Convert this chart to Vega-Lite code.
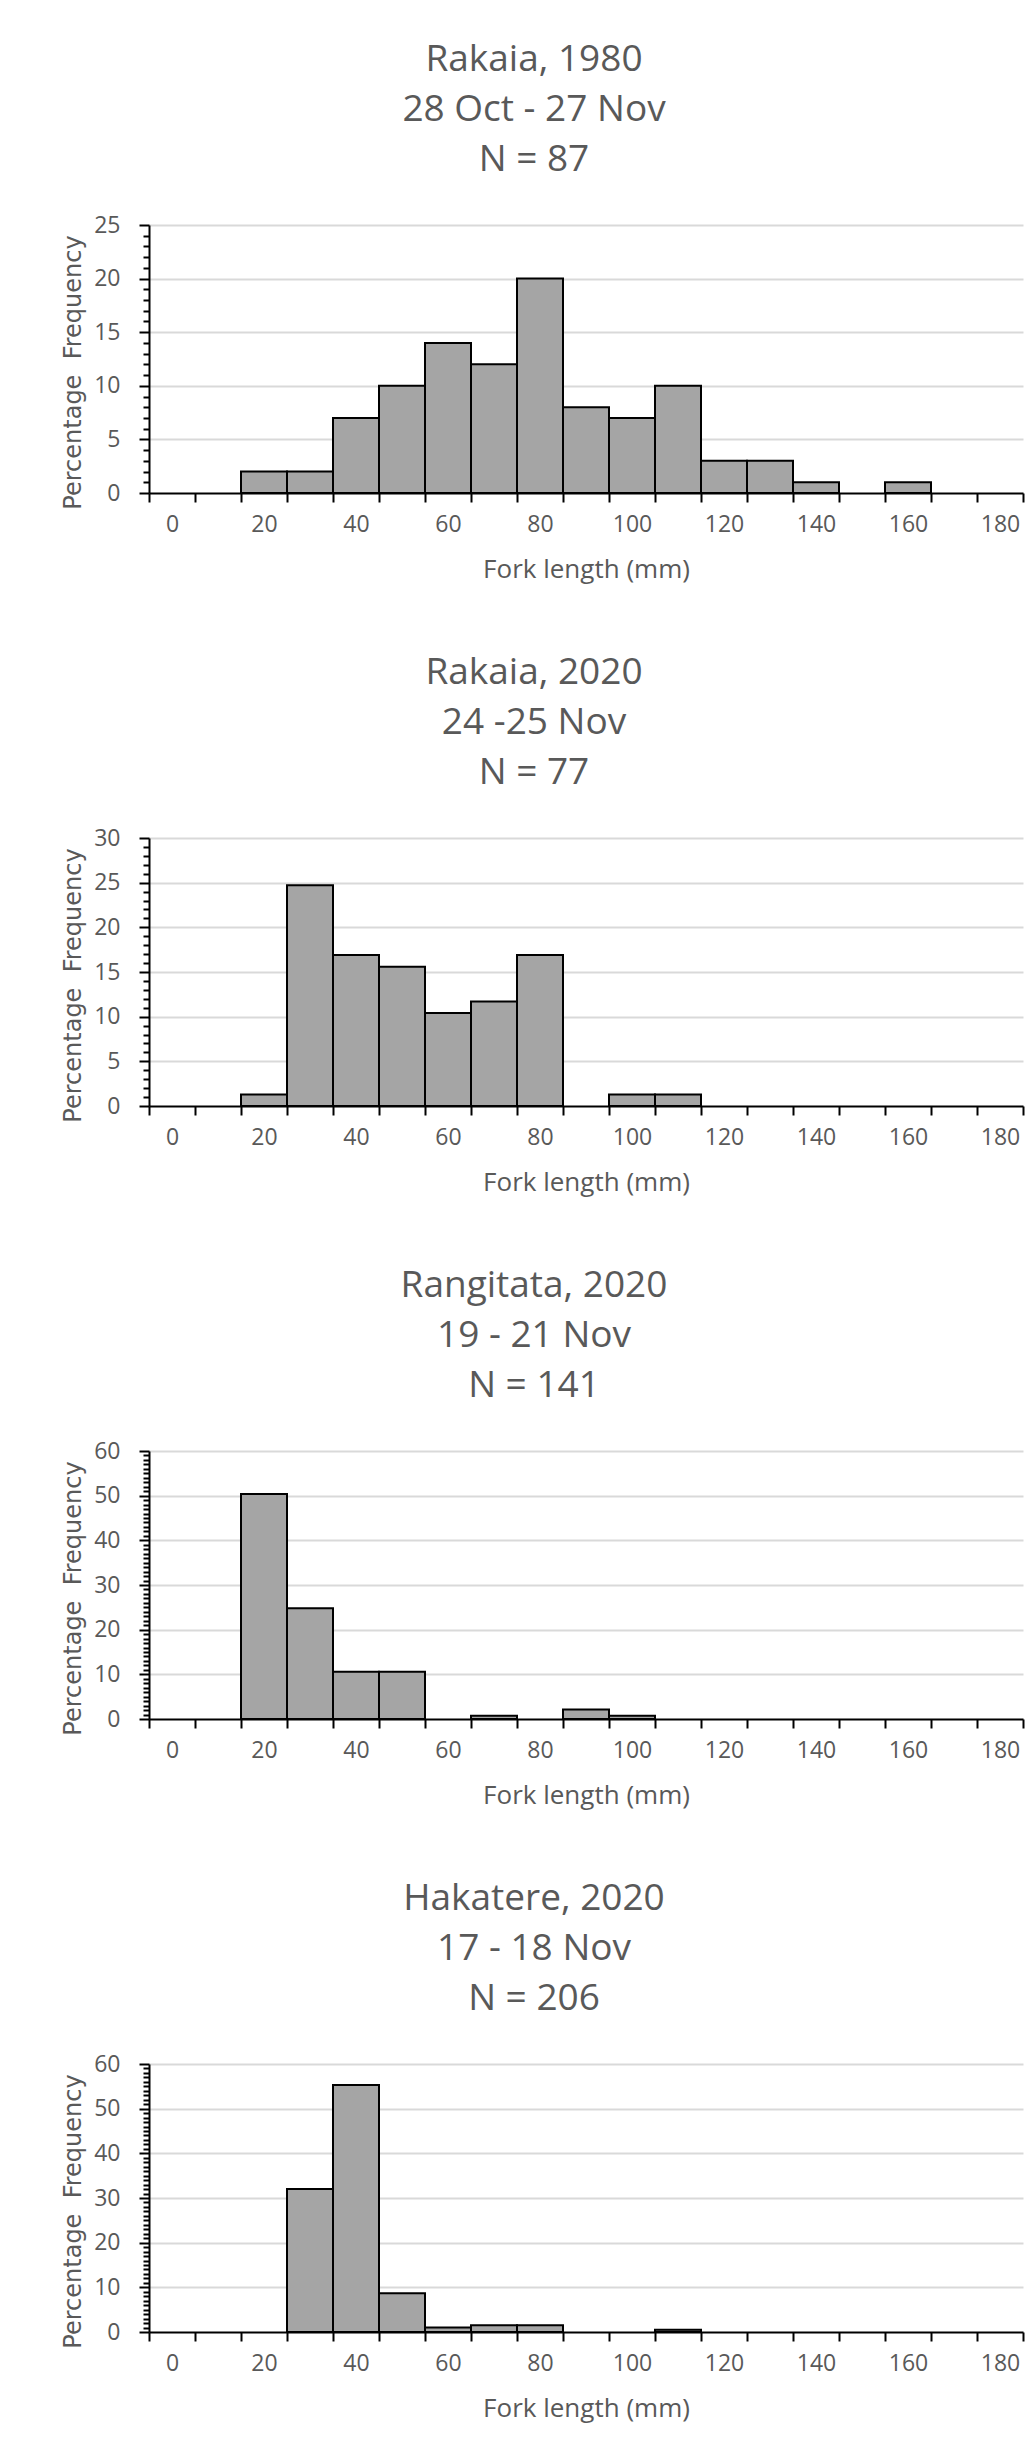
{
  "$schema": "https://vega.github.io/schema/vega-lite/v6.json",
  "background": "white",
  "padding": {"left": 60, "top": 41, "right": 5, "bottom": 5},
  "datasets": {
    "hist": [
      {"panel": "Rakaia 1980", "bin": 20, "pct": 2},
      {"panel": "Rakaia 1980", "bin": 30, "pct": 2},
      {"panel": "Rakaia 1980", "bin": 40, "pct": 7},
      {"panel": "Rakaia 1980", "bin": 50, "pct": 10},
      {"panel": "Rakaia 1980", "bin": 60, "pct": 14},
      {"panel": "Rakaia 1980", "bin": 70, "pct": 12},
      {"panel": "Rakaia 1980", "bin": 80, "pct": 20},
      {"panel": "Rakaia 1980", "bin": 90, "pct": 8},
      {"panel": "Rakaia 1980", "bin": 100, "pct": 7},
      {"panel": "Rakaia 1980", "bin": 110, "pct": 10},
      {"panel": "Rakaia 1980", "bin": 120, "pct": 3},
      {"panel": "Rakaia 1980", "bin": 130, "pct": 3},
      {"panel": "Rakaia 1980", "bin": 140, "pct": 1},
      {"panel": "Rakaia 1980", "bin": 160, "pct": 1},
      {"panel": "Rakaia 2020", "bin": 20, "pct": 1.3},
      {"panel": "Rakaia 2020", "bin": 30, "pct": 24.7},
      {"panel": "Rakaia 2020", "bin": 40, "pct": 16.9},
      {"panel": "Rakaia 2020", "bin": 50, "pct": 15.6},
      {"panel": "Rakaia 2020", "bin": 60, "pct": 10.4},
      {"panel": "Rakaia 2020", "bin": 70, "pct": 11.7},
      {"panel": "Rakaia 2020", "bin": 80, "pct": 16.9},
      {"panel": "Rakaia 2020", "bin": 100, "pct": 1.3},
      {"panel": "Rakaia 2020", "bin": 110, "pct": 1.3},
      {"panel": "Rangitata 2020", "bin": 20, "pct": 50.4},
      {"panel": "Rangitata 2020", "bin": 30, "pct": 24.8},
      {"panel": "Rangitata 2020", "bin": 40, "pct": 10.6},
      {"panel": "Rangitata 2020", "bin": 50, "pct": 10.6},
      {"panel": "Rangitata 2020", "bin": 70, "pct": 0.7},
      {"panel": "Rangitata 2020", "bin": 90, "pct": 2.1},
      {"panel": "Rangitata 2020", "bin": 100, "pct": 0.7},
      {"panel": "Hakatere 2020", "bin": 30, "pct": 32.0},
      {"panel": "Hakatere 2020", "bin": 40, "pct": 55.3},
      {"panel": "Hakatere 2020", "bin": 50, "pct": 8.7},
      {"panel": "Hakatere 2020", "bin": 60, "pct": 1.0},
      {"panel": "Hakatere 2020", "bin": 70, "pct": 1.5},
      {"panel": "Hakatere 2020", "bin": 80, "pct": 1.5},
      {"panel": "Hakatere 2020", "bin": 110, "pct": 0.5}
    ]
  },
  "data": {"name": "hist"},
  "spacing": 72,
  "resolve": {"scale": {"x": "independent", "y": "independent"}},
  "vconcat": [
    {
      "title": {"text": ["Rakaia, 1980", "28 Oct - 27 Nov", "N = 87"]},
      "width": 874, "height": 268,
      "transform": [{"filter": "datum.panel === 'Rakaia 1980'"}],
      "mark": {"type": "bar", "fill": "#a5a5a5", "stroke": "black", "strokeWidth": 2, "width": {"band": 1}},
      "encoding": {
        "x": {"field": "bin", "type": "ordinal", "scale": {"domain": [0,10,20,30,40,50,60,70,80,90,100,110,120,130,140,150,160,170,180], "paddingInner": 0, "paddingOuter": 0}, "axis": {"title": "Fork length (mm)"}},
        "y": {"field": "pct", "type": "quantitative", "scale": {"domain": [0, 25], "nice": false},
          "axis": {"title": "Percentage\u00a0 Frequency", "format": "d",
            "values": [0,1,2,3,4,5,6,7,8,9,10,11,12,13,14,15,16,17,18,19,20,21,22,23,24,25],
            "labelExpr": "datum.value % 5 === 0 ? datum.label : ''",
            "tickSize": {"condition": {"test": "datum.value % 5 === 0", "value": 10}, "value": 6},
            "gridOpacity": {"condition": {"test": "datum.value % 5 === 0 && datum.value > 0", "value": 1}, "value": 0}}}
      }
    },
    {
      "title": {"text": ["Rakaia, 2020", "24 -25 Nov", "N = 77"]},
      "width": 874, "height": 268,
      "transform": [{"filter": "datum.panel === 'Rakaia 2020'"}],
      "mark": {"type": "bar", "fill": "#a5a5a5", "stroke": "black", "strokeWidth": 2, "width": {"band": 1}},
      "encoding": {
        "x": {"field": "bin", "type": "ordinal", "scale": {"domain": [0,10,20,30,40,50,60,70,80,90,100,110,120,130,140,150,160,170,180], "paddingInner": 0, "paddingOuter": 0}, "axis": {"title": "Fork length (mm)"}},
        "y": {"field": "pct", "type": "quantitative", "scale": {"domain": [0, 30], "nice": false},
          "axis": {"title": "Percentage\u00a0 Frequency", "format": "d",
            "values": [0,0.5,1,1.5,2,2.5,3,3.5,4,4.5,5,5.5,6,6.5,7,7.5,8,8.5,9,9.5,10,10.5,11,11.5,12,12.5,13,13.5,14,14.5,15,15.5,16,16.5,17,17.5,18,18.5,19,19.5,20,20.5,21,21.5,22,22.5,23,23.5,24,24.5,25,25.5,26,26.5,27,27.5,28,28.5,29,29.5,30],
            "labelExpr": "datum.value % 5 === 0 ? datum.label : ''",
            "tickSize": {"condition": {"test": "datum.value % 5 === 0", "value": 10}, "value": 6},
            "gridOpacity": {"condition": {"test": "datum.value % 5 === 0 && datum.value > 0", "value": 1}, "value": 0}}}
      }
    },
    {
      "title": {"text": ["Rangitata, 2020", "19 - 21 Nov", "N = 141"]},
      "width": 874, "height": 268,
      "transform": [{"filter": "datum.panel === 'Rangitata 2020'"}],
      "mark": {"type": "bar", "fill": "#a5a5a5", "stroke": "black", "strokeWidth": 2, "width": {"band": 1}},
      "encoding": {
        "x": {"field": "bin", "type": "ordinal", "scale": {"domain": [0,10,20,30,40,50,60,70,80,90,100,110,120,130,140,150,160,170,180], "paddingInner": 0, "paddingOuter": 0}, "axis": {"title": "Fork length (mm)"}},
        "y": {"field": "pct", "type": "quantitative", "scale": {"domain": [0, 60], "nice": false},
          "axis": {"title": "Percentage\u00a0 Frequency", "format": "d",
            "values": [0,1,2,3,4,5,6,7,8,9,10,11,12,13,14,15,16,17,18,19,20,21,22,23,24,25,26,27,28,29,30,31,32,33,34,35,36,37,38,39,40,41,42,43,44,45,46,47,48,49,50,51,52,53,54,55,56,57,58,59,60],
            "labelExpr": "datum.value % 10 === 0 ? datum.label : ''",
            "tickSize": {"condition": {"test": "datum.value % 10 === 0", "value": 10}, "value": 6},
            "gridOpacity": {"condition": {"test": "datum.value % 10 === 0 && datum.value > 0", "value": 1}, "value": 0}}}
      }
    },
    {
      "title": {"text": ["Hakatere, 2020", "17 - 18 Nov", "N = 206"]},
      "width": 874, "height": 268,
      "transform": [{"filter": "datum.panel === 'Hakatere 2020'"}],
      "mark": {"type": "bar", "fill": "#a5a5a5", "stroke": "black", "strokeWidth": 2, "width": {"band": 1}},
      "encoding": {
        "x": {"field": "bin", "type": "ordinal", "scale": {"domain": [0,10,20,30,40,50,60,70,80,90,100,110,120,130,140,150,160,170,180], "paddingInner": 0, "paddingOuter": 0}, "axis": {"title": "Fork length (mm)"}},
        "y": {"field": "pct", "type": "quantitative", "scale": {"domain": [0, 60], "nice": false},
          "axis": {"title": "Percentage\u00a0 Frequency", "format": "d",
            "values": [0,1,2,3,4,5,6,7,8,9,10,11,12,13,14,15,16,17,18,19,20,21,22,23,24,25,26,27,28,29,30,31,32,33,34,35,36,37,38,39,40,41,42,43,44,45,46,47,48,49,50,51,52,53,54,55,56,57,58,59,60],
            "labelExpr": "datum.value % 10 === 0 ? datum.label : ''",
            "tickSize": {"condition": {"test": "datum.value % 10 === 0", "value": 10}, "value": 6},
            "gridOpacity": {"condition": {"test": "datum.value % 10 === 0 && datum.value > 0", "value": 1}, "value": 0}}}
      }
    }
  ],
  "config": {
    "view": {"stroke": null},
    "title": {"font": "Open Sans", "fontSize": 37, "fontWeight": "normal", "color": "#595959", "lineHeight": 50, "anchor": "middle", "dx": -52, "offset": 35},
    "axis": {"domainColor": "black", "domainWidth": 2, "tickColor": "black", "tickWidth": 2,
      "labelColor": "#595959", "labelFont": "Open Sans", "labelFontSize": 23,
      "titleColor": "#595959", "titleFont": "Open Sans", "titleFontSize": 26, "titleFontWeight": "normal"},
    "axisX": {"tickBand": "extent", "tickSize": 9, "labelAngle": 0, "labelPadding": 11, "titlePadding": 20, "grid": false,
      "labelExpr": "datum.value % 20 === 0 ? datum.label : ''"},
    "axisY": {"titleFont": "DejaVu Sans", "titleFontSize": 24, "titleX": -64, "titleY": 147,
      "grid": true, "gridColor": "#d9d9d9", "gridWidth": 2, "labelPadding": 19}
  }
}
